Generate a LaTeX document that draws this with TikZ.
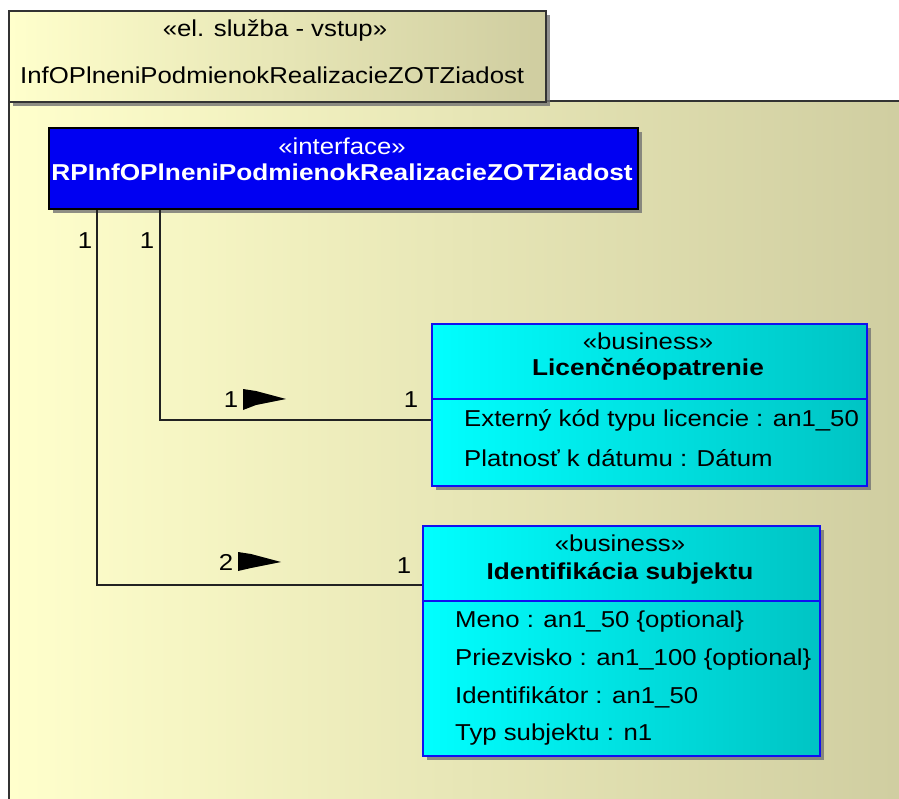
\documentclass[tikz,border=0pt]{standalone}
\usepackage{fontspec}
\setmainfont{Liberation Sans}[FakeStretch=1.12, BoldFeatures={FakeStretch=1.14}]
\usetikzlibrary{shadows}
\definecolor{pkgL}{HTML}{FFFFCC}
\definecolor{pkgR}{HTML}{CFCDA0}
\definecolor{cyL}{HTML}{00FFFF}
\definecolor{cyR}{HTML}{00C4C4}
\definecolor{ifblue}{HTML}{0000F2}
\definecolor{bordblue}{HTML}{1010F0}
\definecolor{lineC}{HTML}{222222}
\tikzset{
  x=1pt, y=-1pt,
  pkg/.style={draw=black!80, line width=2pt, left color=pkgL, right color=pkgR, inner sep=0pt},
  shad/.style={drop shadow={shadow xshift=4pt, shadow yshift=-4pt, fill=black!55, opacity=0.8}},
  iface/.style={draw=black, line width=2pt, fill=ifblue, inner sep=0pt, anchor=north west, shad},
  cls/.style={draw=bordblue, line width=1.6pt, left color=cyL, right color=cyR, inner sep=0pt, anchor=north west, shad},
  txt/.style={inner sep=0pt, font=\fontsize{23}{27}\selectfont},
  btxt/.style={txt, font=\fontsize{23}{27}\selectfont\bfseries},
  attr/.style={txt, anchor=west},
  conn/.style={draw=lineC, line width=1.8pt},
  flag/.style={fill=black},
}
\begin{document}
\begin{tikzpicture}
\useasboundingbox (0,0) rectangle (899,798);
% package
\node[pkg, anchor=north west, minimum width=906pt, minimum height=720pt, shad] (body) at (8,100) {};
\node[pkg, anchor=north west, minimum width=537pt, minimum height=91pt, shad] (tab) at (8,10) {};
\node[txt] (stereo) at (275,31) {«el. služba - vstup»};
\node[txt, anchor=west] (ptitle) at (20,75) {InfOPlneniPodmienokRealizacieZOTZiadost};
% interface
\node[iface, minimum width=589pt, minimum height=81pt] (if) at (48,127) {};
\node[txt, text=white] (ifst) at (342,146) {«interface»};
\node[btxt, text=white] (ifname) at (342,172) {RPInfOPlneniPodmienokRealizacieZOTZiadost};
% Licencne opatrenie
\node[cls, minimum width=435pt, minimum height=162pt] (lic) at (431,323) {};
\draw[draw=bordblue, line width=1.6pt] (lic.west |- 0,399) -- (lic.east |- 0,399);
\node[txt] (licst) at (648,341) {«business»};
\node[btxt] (licname) at (648,369) {Licenčnéopatrenie};
\node[attr] (lica1) at (464,420) {Externý kód typu licencie : an1\_50};
\node[attr] (lica2) at (464,458) {Platnosť k dátumu : Dátum};
% Identifikacia subjektu
\node[cls, minimum width=397pt, minimum height=230pt] (ids) at (422,525) {};
\draw[draw=bordblue, line width=1.6pt] (ids.west |- 0,601) -- (ids.east |- 0,601);
\node[txt] (idsst) at (620,543) {«business»};
\node[btxt] (idsname) at (620,573) {Identifikácia subjektu};
\node[attr] (idsa1) at (455,622) {Meno : an1\_50 \{optional\}};
\node[attr] (idsa2) at (455,660) {Priezvisko : an1\_100 \{optional\}};
\node[attr] (idsa3) at (455,697) {Identifikátor : an1\_50};
\node[attr] (idsa4) at (455,735) {Typ subjektu : n1};
% connectors
\coordinate (s1) at ([xshift=112pt]if.south west);
\coordinate (s2) at ([xshift=49pt]if.south west);
\draw[conn] (s1) |- (lic.west |- 0,420);
\draw[conn] (s2) |- (ids.west |- 0,585);
% multiplicities
\node[txt] (m1) at (85,241) {1};
\node[txt] (m2) at (147,241) {1};
\node[txt] (m3) at (231,400) {1};
\node[txt] (m4) at (411,400) {1};
\node[txt] (m5) at (226,562) {2};
\node[txt] (m6) at (404,566) {1};
% direction flags
\fill[flag] (243,389) -- (256,391) -- (286,399) -- (256,405) -- (243,410) -- cycle;
\fill[flag] (238,552) -- (251,554) -- (281,562) -- (251,568) -- (238,571) -- cycle;
\end{tikzpicture}
\end{document}
